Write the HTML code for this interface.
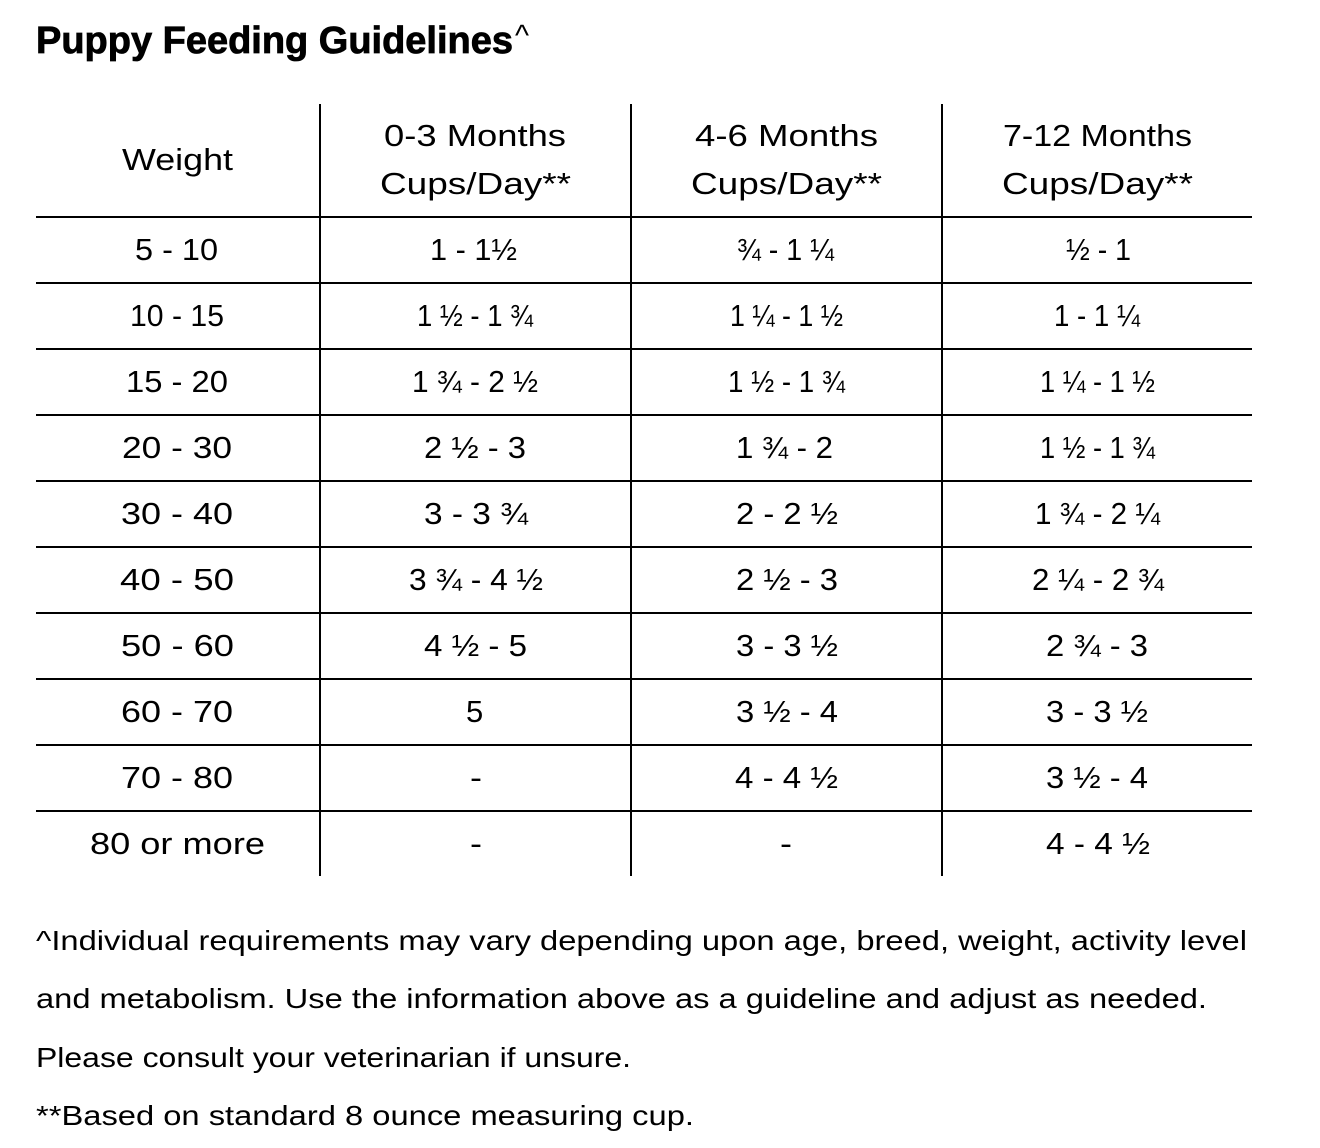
<!DOCTYPE html>
<html>
<head>
<meta charset="utf-8">
<style>
  html, body { margin: 0; padding: 0; background: #fff; }
  svg { display: block; }
  text { font-family: "Liberation Sans", "DejaVu Sans", sans-serif; fill: #000; }
  .t { font-size: 31px; }
  .f { font-size: 28px; }
</style>
</head>
<body>
<svg width="1320" height="1148" viewBox="0 0 1320 1148" xmlns="http://www.w3.org/2000/svg">
  <rect x="0" y="0" width="1320" height="1148" fill="#fff"/>

  <!-- Title -->
  <text x="36" y="53" font-size="38" font-weight="bold" stroke="#000" stroke-width="0.8" textLength="477" lengthAdjust="spacingAndGlyphs">Puppy Feeding Guidelines</text>
  <text x="515" y="45.5" font-size="30" textLength="14" lengthAdjust="spacingAndGlyphs">^</text>

  <!-- Grid lines -->
  <g stroke="#000" stroke-width="2">
    <line x1="320" y1="104" x2="320" y2="876"/>
    <line x1="631" y1="104" x2="631" y2="876"/>
    <line x1="942" y1="104" x2="942" y2="876"/>
    <line x1="36" y1="217" x2="1252" y2="217"/>
    <line x1="36" y1="283" x2="1252" y2="283"/>
    <line x1="36" y1="349" x2="1252" y2="349"/>
    <line x1="36" y1="415" x2="1252" y2="415"/>
    <line x1="36" y1="481" x2="1252" y2="481"/>
    <line x1="36" y1="547" x2="1252" y2="547"/>
    <line x1="36" y1="613" x2="1252" y2="613"/>
    <line x1="36" y1="679" x2="1252" y2="679"/>
    <line x1="36" y1="745" x2="1252" y2="745"/>
    <line x1="36" y1="811" x2="1252" y2="811"/>
  </g>

  <!-- Header -->
  <text class="t" x="122" y="170" textLength="111" lengthAdjust="spacingAndGlyphs">Weight</text>
  <text class="t" x="384" y="146" textLength="182" lengthAdjust="spacingAndGlyphs">0-3 Months</text>
  <text class="t" x="380" y="194" textLength="191" lengthAdjust="spacingAndGlyphs">Cups/Day**</text>
  <text class="t" x="695" y="146" textLength="183" lengthAdjust="spacingAndGlyphs">4-6 Months</text>
  <text class="t" x="691" y="194" textLength="191" lengthAdjust="spacingAndGlyphs">Cups/Day**</text>
  <text class="t" x="1003" y="146" textLength="189" lengthAdjust="spacingAndGlyphs">7-12 Months</text>
  <text class="t" x="1002" y="194" textLength="191" lengthAdjust="spacingAndGlyphs">Cups/Day**</text>

  <!-- Row 1 (baseline 260) -->
  <text class="t" x="135" y="260" textLength="83" lengthAdjust="spacingAndGlyphs">5 - 10</text>
  <text class="t" x="430" y="260" textLength="87" lengthAdjust="spacingAndGlyphs">1 - 1½</text>
  <text class="t" x="737" y="260" textLength="97" lengthAdjust="spacingAndGlyphs">¾ - 1 ¼</text>
  <text class="t" x="1066" y="260" textLength="65" lengthAdjust="spacingAndGlyphs">½ - 1</text>

  <!-- Row 2 (326) -->
  <text class="t" x="130" y="326" textLength="94" lengthAdjust="spacingAndGlyphs">10 - 15</text>
  <text class="t" x="417" y="326" textLength="116" lengthAdjust="spacingAndGlyphs">1 ½ - 1 ¾</text>
  <text class="t" x="730" y="326" textLength="113" lengthAdjust="spacingAndGlyphs">1 ¼ - 1 ½</text>
  <text class="t" x="1054" y="326" textLength="86" lengthAdjust="spacingAndGlyphs">1 - 1 ¼</text>

  <!-- Row 3 (392) -->
  <text class="t" x="126" y="392" textLength="102" lengthAdjust="spacingAndGlyphs">15 - 20</text>
  <text class="t" x="412" y="392" textLength="126" lengthAdjust="spacingAndGlyphs">1 ¾ - 2 ½</text>
  <text class="t" x="728" y="392" textLength="117" lengthAdjust="spacingAndGlyphs">1 ½ - 1 ¾</text>
  <text class="t" x="1040" y="392" textLength="115" lengthAdjust="spacingAndGlyphs">1 ¼ - 1 ½</text>

  <!-- Row 4 (458) -->
  <text class="t" x="122" y="458" textLength="110" lengthAdjust="spacingAndGlyphs">20 - 30</text>
  <text class="t" x="424" y="458" textLength="102" lengthAdjust="spacingAndGlyphs">2 ½ - 3</text>
  <text class="t" x="736" y="458" textLength="97" lengthAdjust="spacingAndGlyphs">1 ¾ - 2</text>
  <text class="t" x="1040" y="458" textLength="115" lengthAdjust="spacingAndGlyphs">1 ½ - 1 ¾</text>

  <!-- Row 5 (524) -->
  <text class="t" x="121" y="524" textLength="112" lengthAdjust="spacingAndGlyphs">30 - 40</text>
  <text class="t" x="424" y="524" textLength="104" lengthAdjust="spacingAndGlyphs">3 - 3 ¾</text>
  <text class="t" x="736" y="524" textLength="102" lengthAdjust="spacingAndGlyphs">2 - 2 ½</text>
  <text class="t" x="1035" y="524" textLength="125" lengthAdjust="spacingAndGlyphs">1 ¾ - 2 ¼</text>

  <!-- Row 6 (590) -->
  <text class="t" x="120" y="590" textLength="114" lengthAdjust="spacingAndGlyphs">40 - 50</text>
  <text class="t" x="409" y="590" textLength="134" lengthAdjust="spacingAndGlyphs">3 ¾ - 4 ½</text>
  <text class="t" x="736" y="590" textLength="102" lengthAdjust="spacingAndGlyphs">2 ½ - 3</text>
  <text class="t" x="1032" y="590" textLength="132" lengthAdjust="spacingAndGlyphs">2 ¼ - 2 ¾</text>

  <!-- Row 7 (656) -->
  <text class="t" x="121" y="656" textLength="113" lengthAdjust="spacingAndGlyphs">50 - 60</text>
  <text class="t" x="424" y="656" textLength="103" lengthAdjust="spacingAndGlyphs">4 ½ - 5</text>
  <text class="t" x="736" y="656" textLength="102" lengthAdjust="spacingAndGlyphs">3 - 3 ½</text>
  <text class="t" x="1046" y="656" textLength="102" lengthAdjust="spacingAndGlyphs">2 ¾ - 3</text>

  <!-- Row 8 (722) -->
  <text class="t" x="121" y="722" textLength="112" lengthAdjust="spacingAndGlyphs">60 - 70</text>
  <text class="t" x="466" y="722">5</text>
  <text class="t" x="736" y="722" textLength="102" lengthAdjust="spacingAndGlyphs">3 ½ - 4</text>
  <text class="t" x="1046" y="722" textLength="102" lengthAdjust="spacingAndGlyphs">3 - 3 ½</text>

  <!-- Row 9 (788) -->
  <text class="t" x="121" y="788" textLength="112" lengthAdjust="spacingAndGlyphs">70 - 80</text>
  <text class="t" x="470" y="788" textLength="12" lengthAdjust="spacingAndGlyphs">-</text>
  <text class="t" x="735" y="788" textLength="103" lengthAdjust="spacingAndGlyphs">4 - 4 ½</text>
  <text class="t" x="1046" y="788" textLength="102" lengthAdjust="spacingAndGlyphs">3 ½ - 4</text>

  <!-- Row 10 (854) -->
  <text class="t" x="90" y="854" textLength="175" lengthAdjust="spacingAndGlyphs">80 or more</text>
  <text class="t" x="470" y="854" textLength="12" lengthAdjust="spacingAndGlyphs">-</text>
  <text class="t" x="780" y="854" textLength="12" lengthAdjust="spacingAndGlyphs">-</text>
  <text class="t" x="1046" y="854" textLength="104" lengthAdjust="spacingAndGlyphs">4 - 4 ½</text>

  <!-- Footnotes -->
  <text class="f" x="36" y="950" textLength="1211" lengthAdjust="spacingAndGlyphs">^Individual requirements may vary depending upon age, breed, weight, activity level</text>
  <text class="f" x="36" y="1008" textLength="1171" lengthAdjust="spacingAndGlyphs">and metabolism. Use the information above as a guideline and adjust as needed.</text>
  <text class="f" x="36" y="1067" textLength="595" lengthAdjust="spacingAndGlyphs">Please consult your veterinarian if unsure.</text>
  <text class="f" x="36" y="1125" textLength="658" lengthAdjust="spacingAndGlyphs">**Based on standard 8 ounce measuring cup.</text>
</svg>
</body>
</html>
